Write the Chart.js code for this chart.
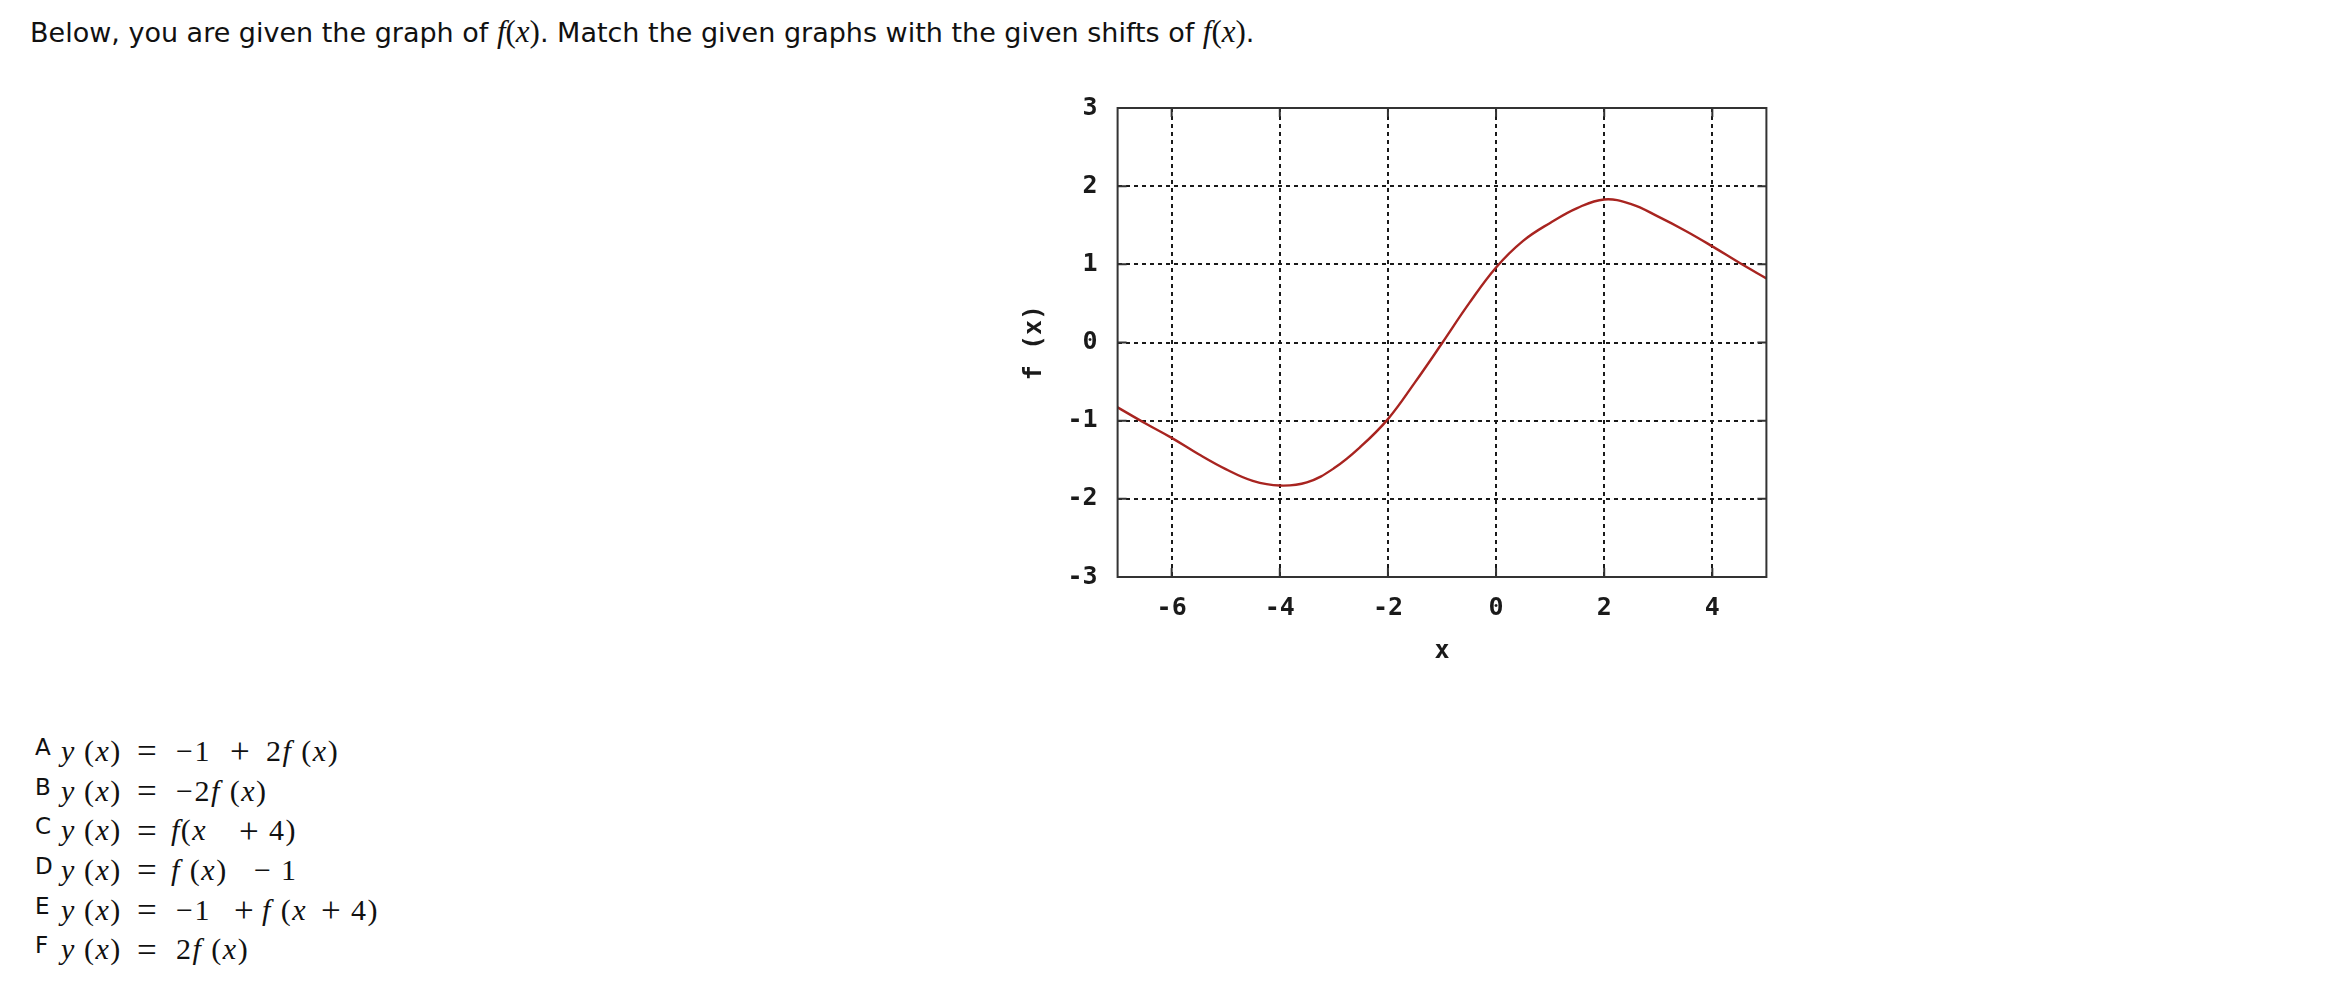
<!DOCTYPE html>
<html>
<head>
<meta charset="utf-8">
<script src="https://cdn.jsdelivr.net/npm/chart.js@4"></script>
<style>
  html, body { margin:0; padding:0; background:#fff; }
  body { width:2344px; height:1000px; position:relative; overflow:hidden; }
  .intro { position:absolute; left:30px; top:14px; font:27px "DejaVu Sans", Verdana, sans-serif; color:#111; white-space:nowrap; }
  .intro .mth { font-family:"Liberation Serif", "Times New Roman", serif; font-size:31px; }
  i { font-style:italic; }
  #eqs { position:absolute; left:0; top:734px; width:500px; color:#111; }
  #eqs .row { position:relative; height:39.7px; }
  #eqs span { position:absolute; top:0; line-height:40px; white-space:pre; }
  #eqs .s { font:23px "DejaVu Sans", Verdana, sans-serif; }
  #eqs .m { font:30px "Liberation Serif", "Times New Roman", serif; letter-spacing:1.5px; }
  #eqs .o { font:35px "Liberation Serif", "Times New Roman", serif; top:-1.7px; }
  #wrap { position:absolute; left:1000px; top:80px; width:800px; height:640px; }
</style>
</head>
<body>
<div class="intro">Below, you are given the graph of <span class="mth"><i>f</i>(<i>x</i>)</span>. Match the given graphs with the given shifts of <span class="mth"><i>f</i>(<i>x</i>)</span>.</div>

<div id="wrap"><canvas id="plot" width="800" height="640"></canvas></div>

<div id="eqs"></div>

<script>
/* ======== DATA ======== */
const xValues = [-7, -6.5, -6, -5.5, -5, -4.5, -4, -3.5, -3, -2.5, -2, -1.5, -1,
                 -0.5, 0, 0.5, 1, 1.5, 2, 2.5, 3, 3.5, 4, 4.5, 5];
const fValues = [-0.83, -1.03, -1.22, -1.43, -1.62, -1.77, -1.83, -1.79, -1.61, -1.33, -0.98, -0.51, -0.01,
                 0.50, 0.96, 1.30, 1.53, 1.72, 1.83, 1.77, 1.61, 1.43, 1.23, 1.02, 0.82];
const xTicks = [-6, -4, -2, 0, 2, 4];
const yTicks = [-3, -2, -1, 0, 1, 2, 3];
const xRange = [-7, 5];
const yRange = [-3, 3];

/* ======== ANSWER LIST (text chunks and where they start) ======== */
// kind: s = sans letter, o = operator, default = math
const answerRows = [
  [['A',35,'s'],['y',61],['(x)',84],['=',137,'o'],['−1',176],['+',230,'o'],['2f (x)',266]],
  [['B',35,'s'],['y',61],['(x)',84],['=',137,'o'],['−2f (x)',176]],
  [['C',35,'s'],['y',61],['(x)',84],['=',137,'o'],['f(x',171],['+',239,'o'],['4)',269]],
  [['D',35,'s'],['y',61],['(x)',84],['=',137,'o'],['f (x)',171],['−',254],['1',281]],
  [['E',35,'s'],['y',61],['(x)',84],['=',137,'o'],['−1',176],['+',234,'o'],['f (x',262],['+',321,'o'],['4)',351]],
  [['F',35,'s'],['y',61],['(x)',84],['=',137,'o'],['2f (x)',176]]
];

(function(){
  const box = document.getElementById('eqs');
  box.innerHTML = answerRows.map(row => '<div class="row">' + row.map(([t, left, kind]) => {
    const html = kind ? t : t.replace(/([xyf])/g, '<i>$1</i>');
    return `<span class="${kind || 'm'}" style="left:${left}px">${html}</span>`;
  }).join('') + '</div>').join('');
})();

const MONO = '"DejaVu Sans Mono", "Liberation Mono", monospace';
const INK = '#1a1a1a';

/* gnuplot-ish frame with inward ticks on all four sides */
const framePlugin = {
  id:'frame',
  afterDatasetsDraw(chart){
    const {ctx, chartArea:a, scales:{x, y}} = chart;
    const tl = 9;
    ctx.save();
    ctx.strokeStyle = '#333';
    ctx.lineWidth = 2;
    ctx.beginPath();
    xTicks.forEach(v=>{
      const px = x.getPixelForValue(v);
      ctx.moveTo(px, a.bottom); ctx.lineTo(px, a.bottom - tl);
      ctx.moveTo(px, a.top); ctx.lineTo(px, a.top + tl);
    });
    yTicks.forEach(v=>{
      const py = y.getPixelForValue(v);
      ctx.moveTo(a.left, py); ctx.lineTo(a.left + tl, py);
      ctx.moveTo(a.right, py); ctx.lineTo(a.right - tl, py);
    });
    ctx.stroke();
    ctx.strokeRect(a.left, a.top, a.right - a.left, a.bottom - a.top);
    ctx.restore();
  }
};

const edge = (v, range) => v === range[0] || v === range[1];

new Chart(document.getElementById('plot'), {
  type:'line',
  data:{
    datasets:[{
      data: xValues.map((v,i)=>({x:v, y:fValues[i]})),
      borderColor:'#a82420',
      borderWidth:2.4,
      pointRadius:0,
      tension:0.4,
      fill:false
    }]
  },
  options:{
    responsive:false,
    devicePixelRatio:1,
    animation:false,
    layout:{ padding:{ top:28, right:33.6, bottom:0, left:0 } },
    plugins:{ legend:{ display:false }, tooltip:{ enabled:false } },
    scales:{
      x:{
        type:'linear', min:xRange[0], max:xRange[1],
        afterBuildTicks: s => { s.ticks = xTicks.map(v=>({value:v})); },
        afterFit: s => { s.height = 143; },
        grid:{ color:INK, lineWidth:2, drawTicks:false },
        border:{ display:false, dash:[4,4] },
        ticks:{ padding:16, color:INK, font:{ family:MONO, size:25, weight:'bold' }, maxRotation:0,
                callback: v => String(v) },
        title:{ display:true, text:'x', color:INK, padding:{ top:0, bottom:54 },
                font:{ family:MONO, size:25, weight:'bold' } }
      },
      y:{
        type:'linear', min:yRange[0], max:yRange[1],
        afterBuildTicks: s => { s.ticks = yTicks.map(v=>({value:v})); },
        afterFit: s => { s.width = 117.6; },
        // invisible 20px tick gap instead of label padding (padding would push the plot top down)
        grid:{ color: c => edge(c.tick && c.tick.value, yRange) ? 'rgba(0,0,0,0)' : INK, lineWidth:2,
               drawTicks:true, tickLength:20, tickColor:'rgba(0,0,0,0)' },
        border:{ display:false, dash:[4,4] },
        ticks:{ padding:0, color:INK, font:{ family:MONO, size:25, weight:'bold' },
                callback: v => String(v) },
        title:{ display:true, text:'f (x)', color:INK, padding:{ top:19, bottom:0 },
                font:{ family:MONO, size:25, weight:'bold' } }
      }
    }
  },
  plugins:[framePlugin]
});
</script>
</body>
</html>
